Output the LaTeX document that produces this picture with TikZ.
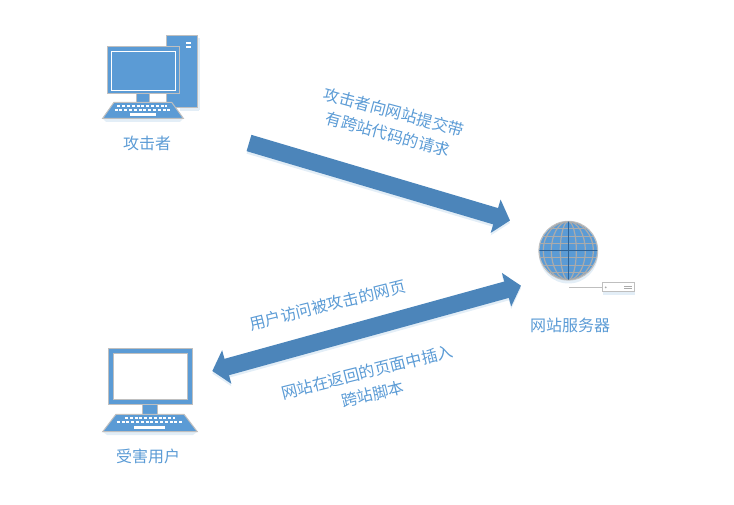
\documentclass[tikz,border=0pt]{standalone}
\usepackage{fontspec}
\setmainfont{Noto Sans CJK SC}
\usetikzlibrary{arrows.meta}

\definecolor{iconblue}{HTML}{5B9BD5}
\definecolor{arrowblue}{HTML}{4C85BA}
\definecolor{rimgray}{HTML}{BFBFBF}
\definecolor{gridgray}{HTML}{ABABAB}
\definecolor{griddark}{HTML}{2E6296}
\definecolor{softblue}{HTML}{E3EEF7}

\tikzset{
  label text/.style={text=iconblue,font=\fontsize{16}{23}\selectfont,inner sep=0pt,align=center},
  icon part/.style={draw=rimgray,fill=iconblue,line width=1pt},
  key row/.style={draw=white,line width=2pt,dash pattern=on 3pt off 1.8pt},
  key bar/.style={fill=white},
  soft part/.style={fill=softblue},
  big arrow/.style={draw=arrowblue,line width=17pt},
  big shadow/.style={draw=softblue,line width=17pt},
}

\begin{document}
\begin{tikzpicture}[x=1pt,y=-1pt]

\useasboundingbox (0,0) rectangle (734,505);

% attacker computer
\path[soft part] (180,108) rectangle (199,111);
\path[soft part] (103,119) -- (183,119) -- (180,122) -- (106,122) -- cycle;
\path[soft part] (198,38) rectangle (200,110);
\path[icon part] (166.5,35.5) rectangle (197.5,108);
\path[key bar] (185.7,41.7) rectangle (191.3,44);
\path[key bar] (185.7,45.7) rectangle (191.3,48.3);
\path[icon part] (107.5,46.5) rectangle (179.5,94);
\path[draw=white,line width=.9pt] (111.7,51.7) rectangle (175.7,90);
\path[icon part] (136.7,94) rectangle (149.3,102.3);
\path[icon part] (114,102.3) -- (171.7,102.3) -- (183.3,118.3) -- (102.7,118.3) -- cycle;
\path[key row] (117.3,106) -- (166.7,106);
\path[key row] (114.5,110.3) -- (171,110.3);
\path[key bar] (130,112.7) rectangle (156,115.7);

% victim computer
\path[soft part] (103,432) -- (197,432) -- (193,435) -- (107,435) -- cycle;
\path[icon part] (108.5,348.5) rectangle (192.5,404.3);
\path[draw=rimgray,fill=white,line width=1pt] (113.3,353.3) rectangle (187.7,399.3);
\path[icon part] (142.7,404.3) rectangle (157.7,414.3);
\path[icon part] (116,414.3) -- (184,414.3) -- (197.3,431.7) -- (102.7,431.7) -- cycle;
\path[key row] (125,418.3) -- (175,418.3);
\path[key row] (116.7,422.3) -- (181.7,422.3);
\path[key bar] (134,425.7) rectangle (165,428.7);

% globe
\path[fill=softblue] (568.5,254) circle (29.5);
\path[draw=rimgray,fill=iconblue,line width=1.2pt] (568.3,250.7) circle (29.3);
\begin{scope}
\path[clip] (568.3,250.7) circle (29);
\foreach \rx in {8,17,25}
  \path[draw=gridgray,line width=1.2pt] (568.3,250.7) ellipse (\rx pt and 29.3pt);
\foreach \dy in {-22,-14.5,-7,7,14.5,22}
  \path[draw=gridgray,line width=1.2pt] (539,250.7+\dy) -- (598,250.7+\dy);
\path[draw=griddark,line width=1.1pt] (568.3,221) -- (568.3,280);
\path[draw=griddark,line width=1.1pt] (539,250.7) -- (598,250.7);
\end{scope}

% router
\path[soft part] (603,292) rectangle (635,295);
\path[draw=rimgray,line width=.8pt] (569.3,287.3) -- (602,287.3);
\path[draw=rimgray,fill=white,line width=1pt] (602.3,282.7) rectangle (634,291.3);
\path[fill=gridgray] (605.7,287.3) circle (1);
\path[draw=gridgray,line width=.6pt] (624,286.2) -- (631.7,286.2);
\path[draw=gridgray,line width=.6pt] (624,288.4) -- (631.7,288.4);

\node[label text] (attackerLabel) at (147,143) {攻击者};
\node[label text] (serverLabel) at (570,325) {网站服务器};
\node[label text] (victimLabel) at (148,456) {受害用户};

\coordinate (submitTail) at (249,143);
\coordinate (submitTip) at (510,220.5);
\coordinate (pageTail) at (212.3,371);
\coordinate (pageTip) at (521,285.7);

\path[big shadow,-{Triangle[width=34pt,length=15pt]}] ([yshift=-2.5pt]submitTail) -- ([yshift=-2.5pt]submitTip);
\path[big arrow,-{Triangle[width=34pt,length=15pt]}] (submitTail) -- (submitTip);

\path[big shadow,{Triangle[width=34pt,length=15pt]}-{Triangle[width=34pt,length=15pt]}] ([yshift=-2.5pt]pageTail) -- ([yshift=-2.5pt]pageTip);
\path[big arrow,{Triangle[width=34pt,length=15pt]}-{Triangle[width=34pt,length=15pt]}] (pageTail) -- (pageTip);

\node[label text,rotate=-15] (submitText) at (391,123) {攻击者向网站提交带\\有跨站代码的请求};
\node[label text,rotate=14] (visitText) at (327.5,305) {用户访问被攻击的网页};
\node[label text,rotate=14] (returnText) at (370,383) {网站在返回的页面中插入\\跨站脚本};

\end{tikzpicture}
\end{document}
